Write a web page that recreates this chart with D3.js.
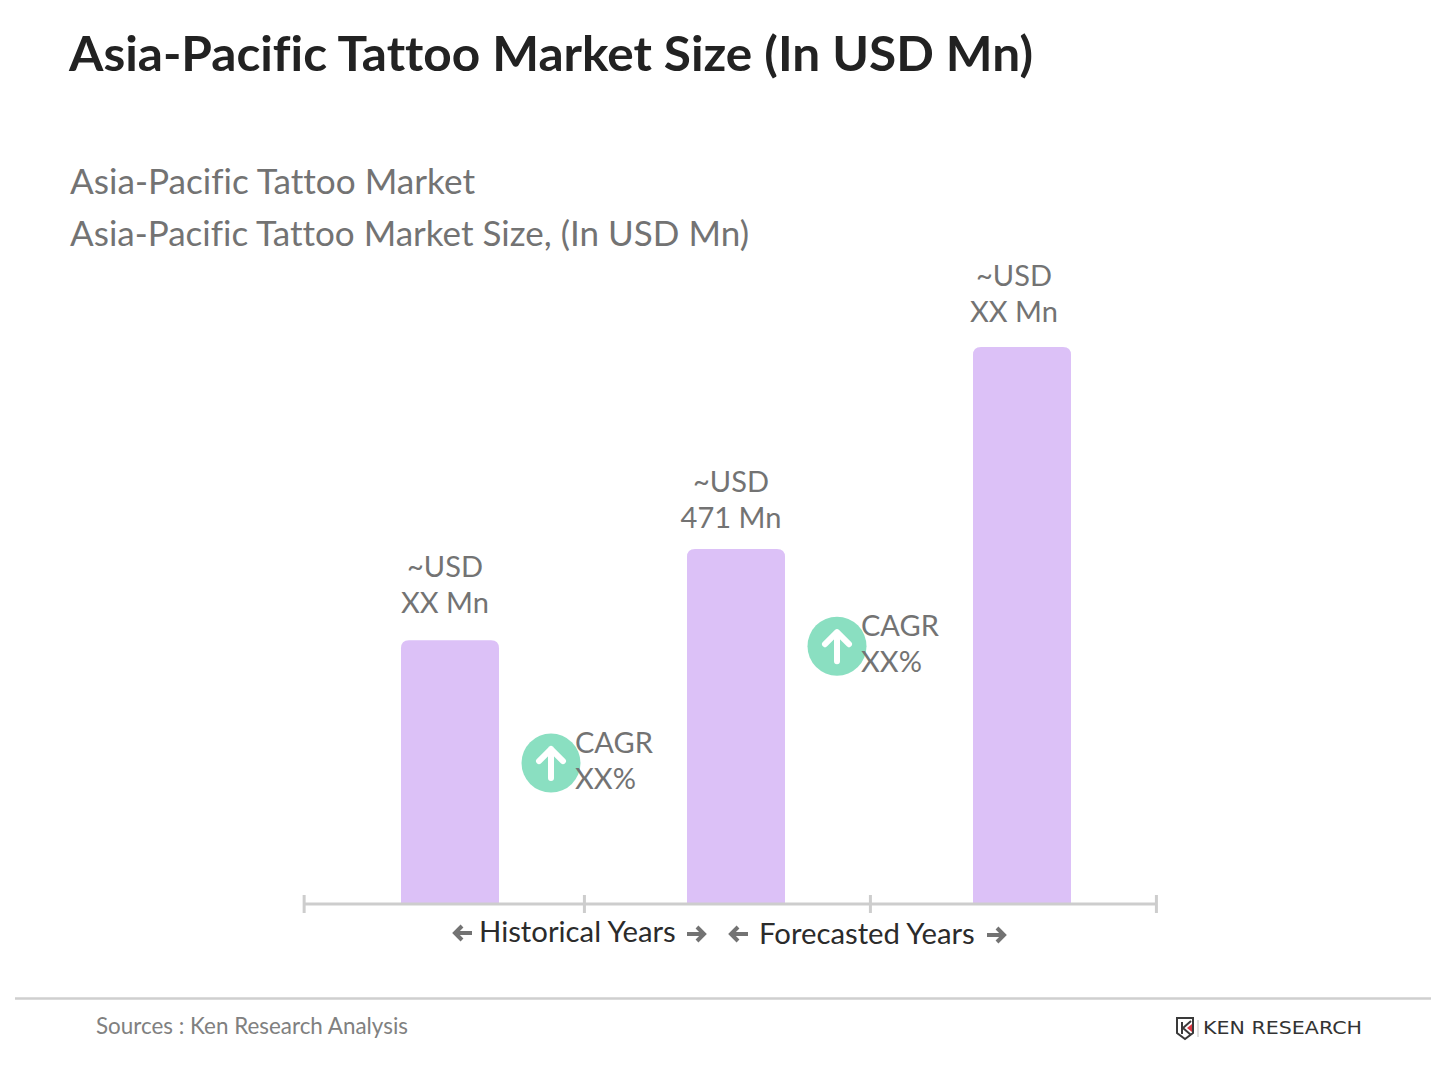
<!DOCTYPE html>
<html>
<head>
<meta charset="utf-8">
<script src="https://cdn.jsdelivr.net/npm/d3@7"></script>
<style>
  html, body { margin: 0; padding: 0; background: #fff; }
  svg { display: block; font-family: Lato, sans-serif; font-variant-ligatures: none; }
</style>
</head>
<body>
<svg id="chart" width="1431" height="1073"></svg>
<script>
// chart values
var categories = ['Base', 'Current', 'Forecast'];
var marketSize = [350, 471, 739];
var valueLabels = [['~USD', 'XX Mn'], ['~USD', '471 Mn'], ['~USD', 'XX Mn']];
var cagrLabels = [['CAGR', 'XX%'], ['CAGR', 'XX%']];
var cagrLevels = [187, 342];
var periodLabels = ['Historical Years', 'Forecasted Years'];

var svg = d3.select('#chart');

var xScale = d3.scaleBand()
    .domain(categories)
    .range([307, 1165])
    .paddingInner(188 / 286)
    .paddingOuter(94 / 286);

var yScale = d3.scaleLinear()
    .domain([0, 739])
    .range([904, 347]);

var barW = xScale.bandwidth();
var step = xScale.step();

// title block
svg.append('text').attr('x', 69).attr('y', 71)
    .attr('font-size', 48.5).attr('font-weight', 700).attr('fill', '#222')
    .attr('textLength', 964).attr('lengthAdjust', 'spacingAndGlyphs')
    .text('Asia-Pacific Tattoo Market Size (In USD Mn)');
svg.append('text').attr('x', 70).attr('y', 194)
    .attr('font-size', 35.5).attr('fill', '#737373')
    .attr('textLength', 405).attr('lengthAdjust', 'spacingAndGlyphs')
    .text('Asia-Pacific Tattoo Market');
svg.append('text').attr('x', 70).attr('y', 246)
    .attr('font-size', 35.5).attr('fill', '#737373')
    .attr('textLength', 679).attr('lengthAdjust', 'spacingAndGlyphs')
    .text('Asia-Pacific Tattoo Market Size, (In USD Mn)');

// bars, only the top corners are rounded
function barPath(d, i) {
  var x0 = xScale(categories[i]), x1 = x0 + barW, y0 = yScale(d), y1 = yScale(0), r = 8;
  return 'M' + x0 + ',' + y1 + 'V' + (y0 + r) + 'Q' + x0 + ',' + y0 + ' ' + (x0 + r) + ',' + y0 +
    'H' + (x1 - r) + 'Q' + x1 + ',' + y0 + ' ' + x1 + ',' + (y0 + r) + 'V' + y1 + 'Z';
}

svg.selectAll('path.bar')
    .data(marketSize)
    .enter().append('path')
    .attr('class', 'bar')
    .attr('fill', '#dcc1f7')
    .attr('d', barPath);

// axis line with the period ticks
var tickIndex = [-0.51, 0.47, 1.47, 2.47];
var tickX = function(t) { return xScale(categories[0]) + barW / 2 + t * step; };
var axis = svg.append('g').attr('stroke', '#cdcdcd').attr('stroke-width', 3);
axis.append('line')
    .attr('x1', tickX(tickIndex[0])).attr('x2', tickX(tickIndex[3]))
    .attr('y1', yScale(0)).attr('y2', yScale(0));
axis.selectAll('line.tick')
    .data(tickIndex)
    .enter().append('line')
    .attr('class', 'tick')
    .attr('x1', tickX).attr('x2', tickX)
    .attr('y1', yScale(0) - 9).attr('y2', yScale(0) + 9);

// value labels over the bars
var labelShift = [-5, -5, -8];
var labelRise = [63, 57, 61];
marketSize.forEach(function(d, i) {
  var cx = xScale(categories[i]) + barW / 2 + labelShift[i];
  valueLabels[i].forEach(function(line, j) {
    svg.append('text')
        .attr('x', cx)
        .attr('y', yScale(d) - labelRise[i] + j * 36)
        .attr('text-anchor', 'middle')
        .attr('font-size', 29)
        .attr('fill', '#737373')
        .text(line);
  });
});

// CAGR badges
cagrLabels.forEach(function(lines, i) {
  var cx = xScale(categories[i]) + barW + 52;
  var cy = yScale(cagrLevels[i]);
  var g = svg.append('g').attr('transform', 'translate(' + cx + ',' + cy + ')');
  g.append('circle').attr('r', 29.5).attr('fill', '#8adfc1');
  g.append('path')
      .attr('d', 'M0,15V-14M-12,-2L0,-14L12,-2')
      .attr('fill', 'none')
      .attr('stroke', '#fff')
      .attr('stroke-width', 6)
      .attr('stroke-linecap', 'round')
      .attr('stroke-linejoin', 'round');
  lines.forEach(function(line, j) {
    svg.append('text')
        .attr('x', cx + 24)
        .attr('y', cy - 10 + j * 36)
        .attr('font-size', 29)
        .attr('fill', '#737373')
        .text(line);
  });
});

// period labels with arrows
function arrow(x, y, dir) {
  svg.append('path')
      .attr('transform', 'translate(' + x + ',' + y + ') scale(' + dir + ',1)')
      .attr('d', 'M-9,0H8M1,-7L8,0L1,7')
      .attr('fill', 'none')
      .attr('stroke', '#737373')
      .attr('stroke-width', 4);
}
svg.append('text').attr('x', 479).attr('y', 942)
    .attr('font-size', 29.3).attr('fill', '#2b2b2b').text(periodLabels[0]);
svg.append('text').attr('x', 759).attr('y', 944)
    .attr('font-size', 29.3).attr('fill', '#2b2b2b').text(periodLabels[1]);
arrow(463, 933, -1);
arrow(696, 934, 1);
arrow(739, 934, -1);
arrow(996, 935, 1);

// footer
svg.append('line')
    .attr('x1', 15).attr('x2', 1431).attr('y1', 998.5).attr('y2', 998.5)
    .attr('stroke', '#cfcfcf').attr('stroke-width', 2.5);
svg.append('text').attr('x', 96).attr('y', 1034)
    .attr('font-size', 23).attr('fill', '#808080')
    .attr('textLength', 312).attr('lengthAdjust', 'spacingAndGlyphs')
    .text('Sources : Ken Research Analysis');

// logo
var logo = svg.append('g');
logo.append('path')
    .attr('d', 'M1177,1018H1193V1033L1185,1039L1177,1033Z')
    .attr('fill', '#fff').attr('stroke', '#3a3a3a').attr('stroke-width', 2);
logo.append('path')
    .attr('d', 'M1182,1022V1034M1191,1021L1183,1028L1191,1035')
    .attr('fill', 'none').attr('stroke', '#3a3a3a').attr('stroke-width', 2);
logo.append('path').attr('d', 'M1192,1024L1187,1028L1192,1032Z').attr('fill', '#d9343f');
logo.append('line')
    .attr('x1', 1198).attr('x2', 1198).attr('y1', 1020).attr('y2', 1037)
    .attr('stroke', '#bbb').attr('stroke-width', 1);
logo.append('text')
    .attr('x', 1203).attr('y', 1034)
    .attr('font-family', 'DejaVu Sans')
    .attr('font-size', 17)
    .attr('fill', '#333')
    .attr('textLength', 159)
    .attr('lengthAdjust', 'spacingAndGlyphs')
    .text('KEN RESEARCH');
</script>
</body>
</html>
